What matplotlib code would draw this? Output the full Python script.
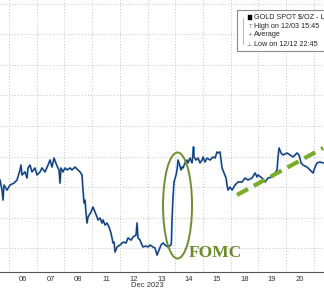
import numpy as np
import matplotlib
matplotlib.use('Agg')
import matplotlib.pyplot as plt
from matplotlib.patches import Ellipse, Rectangle

# Gold spot, intraday trace
# time = trading day index (0 = Dec 06), fractional part = time in the session
day = [-0.325, -0.253, -0.217, -0.181, -0.072, 0.036, 0.181, 0.289, 0.397, 0.433,
       0.469, 0.578, 0.650, 0.686, 0.758, 0.830, 0.939, 1.011, 1.119, 1.191,
       1.300, 1.408, 1.480, 1.552, 1.625, 1.733, 1.805, 1.841, 1.877, 1.949,
       2.022, 2.094, 2.202, 2.274, 2.383, 2.491, 2.563, 2.635, 2.671, 2.708,
       2.744, 2.780, 2.816, 2.852, 2.960, 3.032, 3.105, 3.177, 3.213, 3.285,
       3.357, 3.394, 3.466, 3.538, 3.610, 3.682, 3.755, 3.791, 3.827, 3.899,
       4.007, 4.116, 4.224, 4.296, 4.404, 4.477, 4.585, 4.621, 4.657, 4.729,
       4.801, 4.838, 4.946, 5.018, 5.090, 5.199, 5.271, 5.343, 5.415, 5.487,
       5.560, 5.632, 5.740, 5.848, 5.866, 5.884, 5.921, 5.957, 6.029, 6.065,
       6.101, 6.137, 6.209, 6.245, 6.282, 6.354, 6.426, 6.462, 6.534, 6.606,
       6.643, 6.661, 6.679, 6.751, 6.823, 6.895, 6.968, 7.004, 7.076, 7.148,
       7.256, 7.365, 7.437, 7.509, 7.545, 7.617, 7.653, 7.690, 7.762, 7.834,
       7.870, 7.906, 7.978, 8.051, 8.159, 8.267, 8.412, 8.520, 8.628, 8.773,
       8.881, 8.953, 8.989, 9.134, 9.242, 9.350, 9.495, 9.603, 9.675, 9.711,
       9.747, 9.819, 9.892, 10.036, 10.144, 10.253, 10.397, 10.469, 10.542, 10.614,
       10.758, 10.866, 10.975, 11.047, 11.119, 11.227, 11.336]
price = [2024.6, 2018.0, 2011.5, 2021.3, 2018.0, 2021.3, 2022.6, 2024.6, 2031.2, 2034.4,
         2027.9, 2029.9, 2025.9, 2032.5, 2034.4, 2029.9, 2032.5, 2027.9, 2029.9, 2032.5,
         2029.9, 2034.4, 2037.7, 2033.1, 2039.0, 2033.8, 2031.2, 2022.6, 2032.5, 2029.9,
         2032.5, 2031.2, 2032.5, 2031.2, 2033.1, 2031.2, 2029.9, 2027.9, 2018.0, 2009.5,
         2011.5, 2003.0, 1996.4, 2000.3, 2003.6, 2006.9, 2003.6, 2000.3, 1998.4, 1999.7,
         1996.4, 1998.4, 1995.1, 1996.4, 1993.8, 1989.8, 1983.3, 1983.9, 1977.4, 1980.7,
         1982.0, 1983.9, 1983.3, 1986.6, 1985.2, 1987.2, 1988.5, 1996.4, 1986.6, 1985.2,
         1982.0, 1980.7, 1981.3, 1980.7, 1982.0, 1980.7, 1980.0, 1975.4, 1978.7, 1982.0,
         1983.3, 1982.0, 1980.7, 1982.0, 1985.2, 1998.4, 2013.5, 2023.3, 2027.9, 2031.2,
         2037.7, 2035.8, 2031.2, 2033.1, 2032.5, 2035.8, 2037.7, 2035.8, 2039.0, 2035.8,
         2042.3, 2046.3, 2039.7, 2037.7, 2039.0, 2035.8, 2037.7, 2039.7, 2036.4, 2039.0,
         2037.7, 2039.7, 2039.0, 2043.0, 2042.3, 2043.0, 2037.7, 2032.5, 2029.2, 2025.9,
         2021.3, 2018.0, 2020.0, 2018.0, 2021.3, 2023.3, 2023.3, 2025.9, 2024.6, 2025.9,
         2029.2, 2026.6, 2027.9, 2025.9, 2023.3, 2025.9, 2026.6, 2029.2, 2031.2, 2039.7,
         2045.6, 2042.3, 2041.0, 2042.3, 2041.0, 2039.7, 2042.3, 2041.0, 2035.8, 2034.4,
         2033.1, 2031.2, 2029.2, 2033.1, 2035.8, 2036.4, 2035.8]

day_labels = ['06', '07', '08', '11', '12', '13', '14', '15', '18', '19', '20']
price_grid = [1980, 2000, 2020, 2040, 2060, 2080, 2100, 2120, 2140]

trend_day = [8.23, 11.34]
trend_price = [2014.8, 2045.6]

legend_lines = ['GOLD SPOT $/OZ - Last Price', 'High on 12/03 15:45',
                'Average', 'Low on 12/12 22:45']

fig = plt.figure(figsize=(3.24, 2.91), dpi=100)
ax = fig.add_axes([0, 19 / 291, 1, 272 / 291])

ax.set_xlim(-0.325, 11.37)
ax.set_ylim(1964.3, 2142.6)

# grid: day boundaries vertical, every $20 horizontal
for d in range(len(day_labels) + 1):
    ax.axvline(d, color='#c4c4c4', lw=0.7, ls=(0, (1, 2)), zorder=0)
for p in price_grid:
    ax.axhline(p, color='#c4c4c4', lw=0.7, ls=(0, (1, 2)), zorder=0)

ax.plot(day, price, color='#4a8ad6', lw=1.4, zorder=2)
ax.plot(day, price, color='#16264a', lw=0.6, zorder=3)

ax.plot(trend_day, trend_price, color='#7aab2b', lw=3, ls=(0, (3, 1.6)), zorder=4)

ax.add_patch(Ellipse((6.083, 2007.9), 1.047, 69.5, fill=False,
                     edgecolor='#6f8f2e', lw=1.4, zorder=5))
ax.text(6.50, 1976.7, 'FOMC', family='Liberation Serif', fontweight='bold',
        fontsize=12.5, color='#6b8a2c', ha='left', va='center', zorder=6)

ax.set_xticks([d + 0.5 for d in range(len(day_labels))])
ax.set_xticklabels(day_labels, family='Liberation Sans', fontsize=5.5, color='#333333')
ax.tick_params(axis='x', length=0, pad=3)
ax.set_yticks([])
for s in ['left', 'right', 'top']:
    ax.spines[s].set_visible(False)
ax.spines['bottom'].set_color('#555555')
ax.spines['bottom'].set_linewidth(0.8)
ax.text(5.0, -0.038, 'Dec 2023', transform=ax.get_xaxis_transform(),
        family='Liberation Sans', fontsize=5.5, color='#333333', ha='center', va='top')

# legend box (cut off by the right edge, like the source)
W, H = 324, 291
fig.patches.append(Rectangle((237 / W, 1 - 51 / H), 0.4, 41 / H, transform=fig.transFigure,
                             facecolor='white', edgecolor='#8a8a8a', lw=0.8, zorder=10))
fig.lines.append(plt.Line2D([243 / W, 243 / W], [1 - 18 / H, 1 - 44 / H], transform=fig.transFigure,
                            color='#9a9a9a', lw=0.5, zorder=11))
fig.patches.append(Rectangle((248 / W, 1 - 20 / H), 4 / W, 5 / H, transform=fig.transFigure,
                             facecolor='black', edgecolor='black', lw=0.3, zorder=11))
icons = ['', 'T', '+', '\u22a5']
ys = [17, 26, 35, 44]
for txt, icon, yy in zip(legend_lines, icons, ys):
    fig.text(254 / W, 1 - yy / H, txt, family='Liberation Sans', fontsize=5.2,
             color='#222222', ha='left', va='center', zorder=12)
    if icon:
        fig.text(249.5 / W, 1 - yy / H, icon, family='DejaVu Sans', fontsize=4.2,
                 color='#777777', ha='center', va='center', zorder=12)

fig.savefig('out.png', dpi=100)
